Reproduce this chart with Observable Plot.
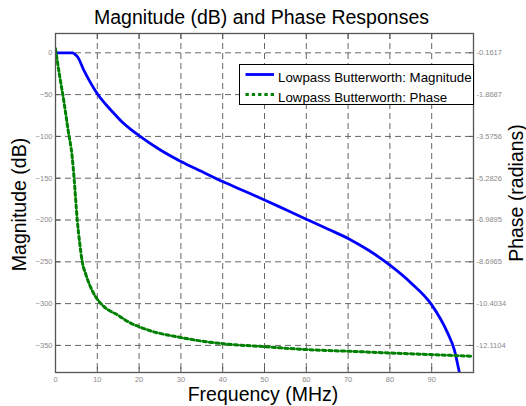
<!DOCTYPE html>
<html>
<head>
<meta charset="utf-8">
<script src="https://cdn.jsdelivr.net/npm/d3@7"></script>
<script src="https://cdn.jsdelivr.net/npm/@observablehq/plot@0.6"></script>
<style>
  body { margin: 0; background: #fff; }
  #wrap { position: relative; width: 526px; height: 406px; font-family: "Liberation Sans", Arial, sans-serif; }
  #legend { position: absolute; left: 238.5px; top: 63.5px; }
</style>
</head>
<body>
<div id="wrap"></div>
<script>
// ---- data ----
const xTicks = [0, 10, 20, 30, 40, 50, 60, 70, 80, 90];
const yTicks = [0, -50, -100, -150, -200, -250, -300, -350];
const phaseTickLabels = ["-0.1617", "-1.8687", "-3.5756", "-5.2826", "-6.9895", "-8.6965", "-10.4034", "-12.1104"];

const magFreq = [0, 2, 4.1, 4.6, 5.3, 6.8, 8.4, 10, 12, 14, 16, 18, 20, 25, 30, 35, 40, 45, 50, 55, 60, 65, 70, 75, 80, 85, 90, 93.8, 95.4, 96.6];
const magDb   = [0, 0, 0, -1.5, -5, -21, -36, -49, -61.5, -72.5, -83, -91.5, -99, -116, -130, -142, -154, -165, -176, -187.5, -199, -210.5, -222, -236.5, -254, -275, -301.5, -335, -355, -382];

const phaseFreq = [0, 1, 2, 3, 4, 4.45, 5.2, 5.8, 6.4, 7.25, 8.2, 9.5, 11.6, 14.8, 17.5, 22, 30, 35.6, 41.1, 50, 60, 70, 80, 90, 100];
const phaseRad  = [0, -1.118, -2.142, -3.302, -4.429, -5.282, -6.990, -7.945, -8.696, -9.209, -9.652, -10.096, -10.526, -10.864, -11.154, -11.475, -11.789, -11.950, -12.059, -12.161, -12.281, -12.349, -12.418, -12.486, -12.554];

const seriesNames = ["Lowpass Butterworth: Magnitude", "Lowpass Butterworth: Phase"];
const titleText = "Magnitude (dB) and Phase Responses";
const xLabel = "Frequency (MHz)";
const yLabelLeft = "Magnitude (dB)";
const yLabelRight = "Phase (radians)";

// phase axis is linked to the dB axis through its tick labels
const p0 = +phaseTickLabels[0];
const pStep = (+phaseTickLabels[0]) - (+phaseTickLabels[1]);
const dbStep = yTicks[0] - yTicks[1];
const phaseToDb = r => (r - p0) / pStep * dbStep;

const magData = magFreq.map((f, i) => ({f, v: magDb[i]}));
const phaseData = phaseFreq.map((f, i) => ({f, v: phaseToDb(phaseRad[i])}));

const blue = "#0000ff", green = "#008000", frameCol = "#555", gridCol = "#666", tickCol = "#8a8a8a";
const font = '"Liberation Sans", Arial, sans-serif';
const lab = {fontSize: 19.5, fill: "#000", textAnchor: "middle", lineAnchor: "middle", text: d => d};

const plot = Plot.plot({
  width: 526, height: 406,
  marginTop: 33, marginBottom: 34, marginLeft: 55, marginRight: 53,
  style: {fontFamily: font, background: "#fff", fontSize: "7.5px"},
  x: {domain: [0, 100]},
  y: {domain: [-382.4, 23.1]},
  marks: [
    Plot.gridX(xTicks.slice(1), {stroke: gridCol, strokeOpacity: 1, strokeDasharray: "6,4"}),
    Plot.gridY(yTicks, {stroke: gridCol, strokeOpacity: 1, strokeDasharray: "6,4"}),
    // tick labels
    Plot.axisX(xTicks, {anchor: "bottom", tickSize: 0, tickPadding: 4, fill: tickCol, fontSize: 7.5, label: null}),
    Plot.axisY(yTicks, {anchor: "left", tickSize: 0, tickPadding: 3, fill: tickCol, fontSize: 7.5, label: null}),
    Plot.axisY(yTicks, {anchor: "right", tickSize: 0, tickPadding: 3, fill: tickCol, fontSize: 7.5, label: null,
      tickFormat: d => phaseTickLabels[yTicks.indexOf(d)]}),
    // inner ticks
    Plot.axisX(xTicks, {anchor: "bottom", tickSize: -5, tickFormat: () => "", stroke: frameCol, label: null}),
    Plot.axisX(xTicks, {anchor: "top", tickSize: -5, tickFormat: () => "", stroke: frameCol, label: null}),
    Plot.axisY(yTicks, {anchor: "left", tickSize: -5, tickFormat: () => "", stroke: frameCol, label: null}),
    Plot.axisY(yTicks, {anchor: "right", tickSize: -5, tickFormat: () => "", stroke: frameCol, label: null}),
    // series
    Plot.line(magData, {x: "f", y: "v", stroke: blue, strokeWidth: 2.8, curve: "monotone-x", clip: true}),
    Plot.line(phaseData, {x: "f", y: "v", stroke: green, strokeWidth: 3, strokeDasharray: "3.3,3", curve: "monotone-x", clip: true}),
    Plot.frame({stroke: frameCol, strokeWidth: 1.3}),
    // titles
    Plot.text([titleText], {...lab, frameAnchor: "top", dx: -3, dy: -15.3}),
    Plot.text([xLabel], {...lab, frameAnchor: "bottom", dx: -1.5, dy: 22.5}),
    Plot.text([yLabelLeft], {...lab, frameAnchor: "left", rotate: -90, dx: -36, dy: 1.5}),
    Plot.text([yLabelRight], {...lab, frameAnchor: "right", rotate: -90, dx: 43, dy: -10})
  ]
});

const wrap = document.getElementById("wrap");
wrap.appendChild(plot);

// legend
const ns = "http://www.w3.org/2000/svg";
const lg = document.createElementNS(ns, "svg");
lg.setAttribute("id", "legend");
lg.setAttribute("width", 236);
lg.setAttribute("height", 42);
const rows = [
  {name: seriesNames[0], color: blue, dash: null, width: 2.8, y: 10.5},
  {name: seriesNames[1], color: green, dash: "3.3,3", width: 3, y: 30.5}
];
let html = `<rect x="0.5" y="0.5" width="234" height="40" fill="#fff" stroke="#000" stroke-width="1"/>`;
for (const r of rows) {
  html += `<line x1="6.5" x2="35" y1="${r.y}" y2="${r.y}" stroke="${r.color}" stroke-width="${r.width}" ${r.dash ? `stroke-dasharray="${r.dash}"` : ""}/>`;
  html += `<text x="39" y="${r.y + 7}" font-family='${font}' font-size="13.3" fill="#000">${r.name}</text>`;
}
lg.innerHTML = html;
wrap.appendChild(lg);
</script>
</body>
</html>
